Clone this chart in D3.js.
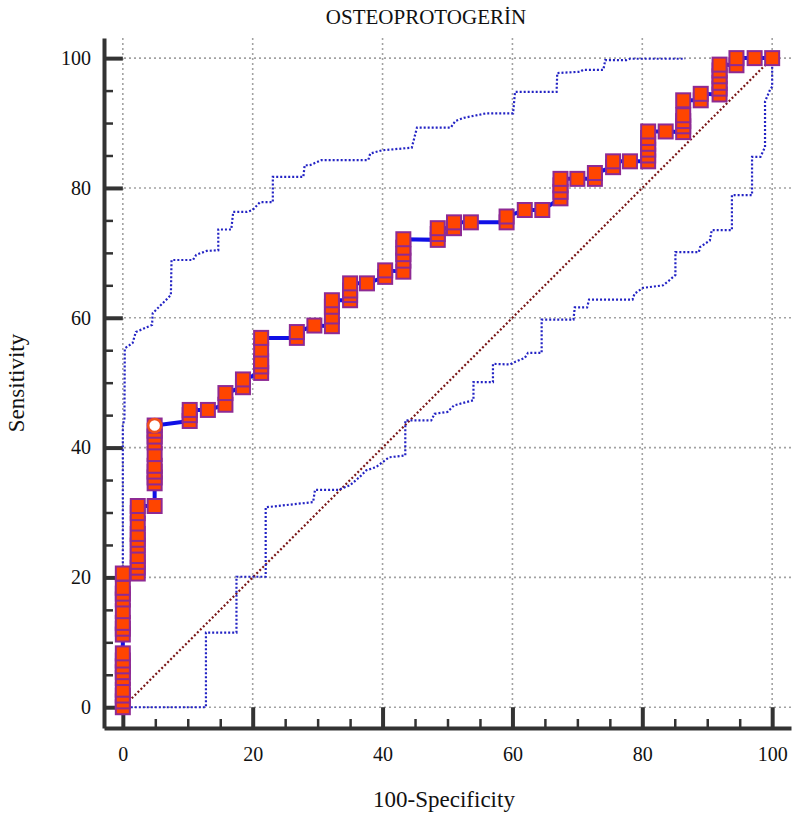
<!DOCTYPE html>
<html lang="en">
<head>
<meta charset="UTF-8">
<title>OSTEOPROTOGERİN</title>
<script src="https://d3js.org/d3.v7.min.js"></script>
<style>
    body { margin: 0; background: #fff; }
    text { font-family: "Liberation Serif", "Times New Roman", serif; fill: #111; }
    /* dotted grid */
    .grid line { stroke: #a2a2a2; stroke-width: 1.6; stroke-dasharray: 2,3; }
    /* axes: thick dark lines, ticks pointing into the plot */
    .axis path { stroke: #333; stroke-width: 4; fill: none; }
    .axis.major line { stroke: #333; stroke-width: 4; }
    .axis.minor line { stroke: #333; stroke-width: 2.5; }
    .axis text { font-size: 20px; }
    .band { fill: none; stroke: #2323c4; stroke-width: 2.2; stroke-dasharray: 2,2; }
    .diag { fill: none; stroke: #7a1717; stroke-width: 2.2; stroke-dasharray: 2,2.2; }
    .roc { fill: none; stroke: #1010e6; stroke-width: 4; }
    .marker { fill: #ff4500; stroke: #8e2a94; stroke-width: 2; }
    .cutoff { fill: #fff; stroke: #f04e1c; stroke-width: 2.5; }
</style>
</head>
<body>
<div id="chart"></div>
<script>
    // tick values
    const majorTicks = [0, 20, 40, 60, 80, 100];
    const minorTicks = [5, 10, 15, 25, 30, 35, 45, 50, 55, 65, 70, 75, 85, 90, 95];

    // ROC points: [100-specificity, sensitivity], in drawing order
    const rocPoints = [
        [0, 0], [0, 0.9], [0, 1.8], [0, 2.7], [0, 4.5], [0, 5.4], [0, 6.3], [0, 7.2], [0, 8.3],
        [0, 11.2], [0, 12.1], [0, 13.0], [0, 14.8], [0, 16.6], [0, 17.5], [0, 18.4], [0, 20.6],
        [2.3, 20.6], [2.3, 21.5], [2.3, 22.4], [2.3, 23.3], [2.3, 24.9], [2.3, 25.8], [2.3, 26.7],
        [2.3, 28.3], [2.3, 29.9], [2.3, 31.0],
        [4.9, 31.0], [4.9, 34.5], [4.9, 35.4], [4.9, 36.3], [4.9, 37.2], [4.9, 39.0], [4.9, 40.8],
        [4.9, 41.7], [4.9, 42.6], [4.9, 43.4],
        [10.3, 44.1], [10.3, 45.0], [10.3, 45.8],
        [13.1, 45.8],
        [15.8, 46.6], [15.8, 48.4],
        [18.5, 49.3], [18.5, 50.5],
        [21.3, 51.5], [21.3, 52.5], [21.3, 53.3], [21.3, 55.1], [21.3, 56.9],
        [26.8, 56.9], [26.8, 57.8],
        [29.5, 58.8],
        [32.2, 58.7], [32.2, 60.2], [32.2, 61.7], [32.2, 62.7],
        [35.0, 62.7], [35.0, 63.5], [35.0, 64.2], [35.0, 65.3],
        [37.6, 65.3],
        [40.4, 66.3], [40.4, 67.3],
        [43.2, 67.1], [43.2, 68.8], [43.2, 69.8], [43.2, 70.8], [43.2, 72.1],
        [48.5, 72.0], [48.5, 72.9], [48.5, 73.8],
        [51.0, 73.8], [51.0, 74.7],
        [53.6, 74.7],
        [59.1, 74.7], [59.1, 75.6],
        [61.9, 76.6],
        [64.6, 76.6],
        [67.4, 78.4], [67.4, 79.4], [67.4, 80.4], [67.4, 81.4],
        [70.0, 81.4],
        [72.7, 81.4], [72.7, 82.3],
        [75.5, 83.2], [75.5, 84.1],
        [78.1, 84.1],
        [80.9, 84.1], [80.9, 85.0], [80.9, 85.9], [80.9, 86.8], [80.9, 87.7], [80.9, 88.7],
        [83.6, 88.7],
        [86.3, 88.6], [86.3, 89.5], [86.3, 90.3], [86.3, 91.2], [86.3, 93.5],
        [89.0, 93.5], [89.0, 94.5],
        [91.9, 94.4], [91.9, 95.3], [91.9, 96.2], [91.9, 97.2], [91.9, 98.1], [91.9, 99.0],
        [94.5, 98.9], [94.5, 100],
        [97.3, 100],
        [100, 100]
    ];

    // optimal criterion point
    const cutoffPoint = [4.9, 43.4];

    // 95% confidence bounds
    const upperBand = [
        [0, 0], [0, 43.4], [0.25, 44.5], [0.3, 55.3], [1.5, 56.1], [2.0, 57.8], [4.5, 58.9],
        [4.6, 60.7], [7.4, 63.5], [7.5, 68.9], [10.8, 68.9], [11.3, 69.7], [12.9, 70.3],
        [14.7, 70.4], [14.7, 73.6], [16.7, 73.6], [17.0, 76.3], [19.1, 76.3], [20.0, 76.6],
        [21.1, 77.8], [23.1, 77.8], [23.1, 81.7], [27.8, 81.7], [28.0, 83.5], [28.8, 83.5],
        [30.6, 84.3], [37.8, 84.3], [38.1, 85.3], [39.9, 85.8], [44.5, 86.2], [45.3, 89.3],
        [50.5, 89.3], [51.2, 90.3], [52.5, 90.8], [56.0, 91.5], [60.1, 91.5], [60.4, 94.8],
        [66.8, 94.8], [66.9, 97.7], [70.4, 97.9], [70.9, 98.2], [74.0, 98.2], [74.3, 99.7],
        [77.6, 99.7], [78.1, 99.9], [86.6, 99.9]
    ];
    const lowerBand = [
        [0, 0], [12.8, 0], [12.8, 11.5], [17.5, 11.5], [17.5, 20.1], [22.0, 20.1], [22.0, 30.8],
        [29.3, 31.6], [29.6, 33.5], [33.2, 33.5], [35.0, 34.2], [36.5, 35.5], [37.5, 36.5],
        [39.0, 37.0], [41.0, 38.5], [43.5, 38.8], [43.5, 44.2], [47.5, 44.2], [48.0, 45.2],
        [50.0, 45.5], [51.0, 46.5], [54.0, 47.3], [54.0, 50.1], [57.0, 50.1], [57.0, 52.9],
        [59.6, 52.8], [60.4, 53.2], [61.9, 53.8], [62.4, 54.6], [64.5, 54.6], [64.5, 59.7],
        [69.4, 59.7], [69.6, 61.6], [71.5, 61.6], [71.8, 62.8], [78.5, 62.8], [78.8, 63.7],
        [80.1, 64.6], [83.2, 65.0], [84.2, 65.8], [85.1, 66.6], [85.1, 70.1], [88.7, 70.1],
        [88.9, 70.9], [90.4, 71.9], [90.7, 73.5], [93.8, 73.5], [93.8, 78.9], [96.9, 78.9],
        [96.9, 84.8], [98.2, 84.8], [98.9, 86.3], [98.9, 93.3], [99.7, 95.2], [100, 95.6],
        [100, 100]
    ];
    const diagonal = [[0, 0], [100, 100]];

    const width = 794, height = 815;
    const plotLeft = 104, plotRight = 791, plotTop = 38, plotBottom = 728;

    const x = d3.scaleLinear().domain([-2.9, 102.9]).range([plotLeft, plotRight]);
    const y = d3.scaleLinear().domain([-3.2, 103.1]).range([plotBottom, plotTop]);

    const svg = d3.select("#chart").append("svg")
        .attr("width", width)
        .attr("height", height);

    // grid
    const grid = svg.append("g").attr("class", "grid");
    grid.selectAll(".gx").data(majorTicks).enter().append("line")
        .attr("x1", d => x(d)).attr("x2", d => x(d))
        .attr("y1", plotTop).attr("y2", plotBottom);
    grid.selectAll(".gy").data(majorTicks).enter().append("line")
        .attr("x1", plotLeft).attr("x2", plotRight)
        .attr("y1", d => y(d)).attr("y2", d => y(d));

    // minor ticks
    svg.append("g").attr("class", "axis minor")
        .attr("transform", `translate(0,${plotBottom})`)
        .call(d3.axisBottom(x).tickValues(minorTicks).tickSize(-9).tickFormat(""))
        .call(g => g.select(".domain").remove());
    svg.append("g").attr("class", "axis minor")
        .attr("transform", `translate(${plotLeft},0)`)
        .call(d3.axisLeft(y).tickValues(minorTicks).tickSize(-9).tickFormat(""))
        .call(g => g.select(".domain").remove());

    // major ticks + labels
    svg.append("g").attr("class", "axis major")
        .attr("transform", `translate(0,${plotBottom})`)
        .call(d3.axisBottom(x).tickValues(majorTicks).tickSize(-(plotBottom - y(0))).tickSizeOuter(0).tickPadding(19))
        .call(g => g.selectAll("text").attr("dy", "0.71em"));
    svg.append("g").attr("class", "axis major")
        .attr("transform", `translate(${plotLeft},0)`)
        .call(d3.axisLeft(y).tickValues(majorTicks).tickSize(-(x(0) - plotLeft)).tickSizeOuter(0).tickPadding(13));

    const line = d3.line().x(d => x(d[0])).y(d => y(d[1]));

    svg.append("path").attr("class", "diag").attr("d", line(diagonal));
    svg.append("path").attr("class", "band").attr("d", line(upperBand));
    svg.append("path").attr("class", "band").attr("d", line(lowerBand));
    svg.append("path").attr("class", "roc").attr("d", line(rocPoints));

    // square markers, drawn bottom to top so stacked ones show as stripes
    const m = 14;
    svg.append("g").selectAll("rect").data(rocPoints).enter().append("rect")
        .attr("class", "marker")
        .attr("x", d => x(d[0]) - m / 2)
        .attr("y", d => y(d[1]) - m / 2)
        .attr("width", m)
        .attr("height", m);

    svg.append("circle").attr("class", "cutoff")
        .attr("cx", x(cutoffPoint[0]))
        .attr("cy", y(cutoffPoint[1]))
        .attr("r", 6.5);

    // titles
    svg.append("text")
        .attr("x", 426).attr("y", 24)
        .attr("text-anchor", "middle")
        .style("font-size", "21px")
        .text("OSTEOPROTOGERİN");
    svg.append("text")
        .attr("x", 444).attr("y", 807)
        .attr("text-anchor", "middle")
        .style("font-size", "23px")
        .text("100-Specificity");
    svg.append("text")
        .attr("transform", "translate(24,383) rotate(-90)")
        .attr("text-anchor", "middle")
        .style("font-size", "23px")
        .text("Sensitivity");
</script>
</body>
</html>
